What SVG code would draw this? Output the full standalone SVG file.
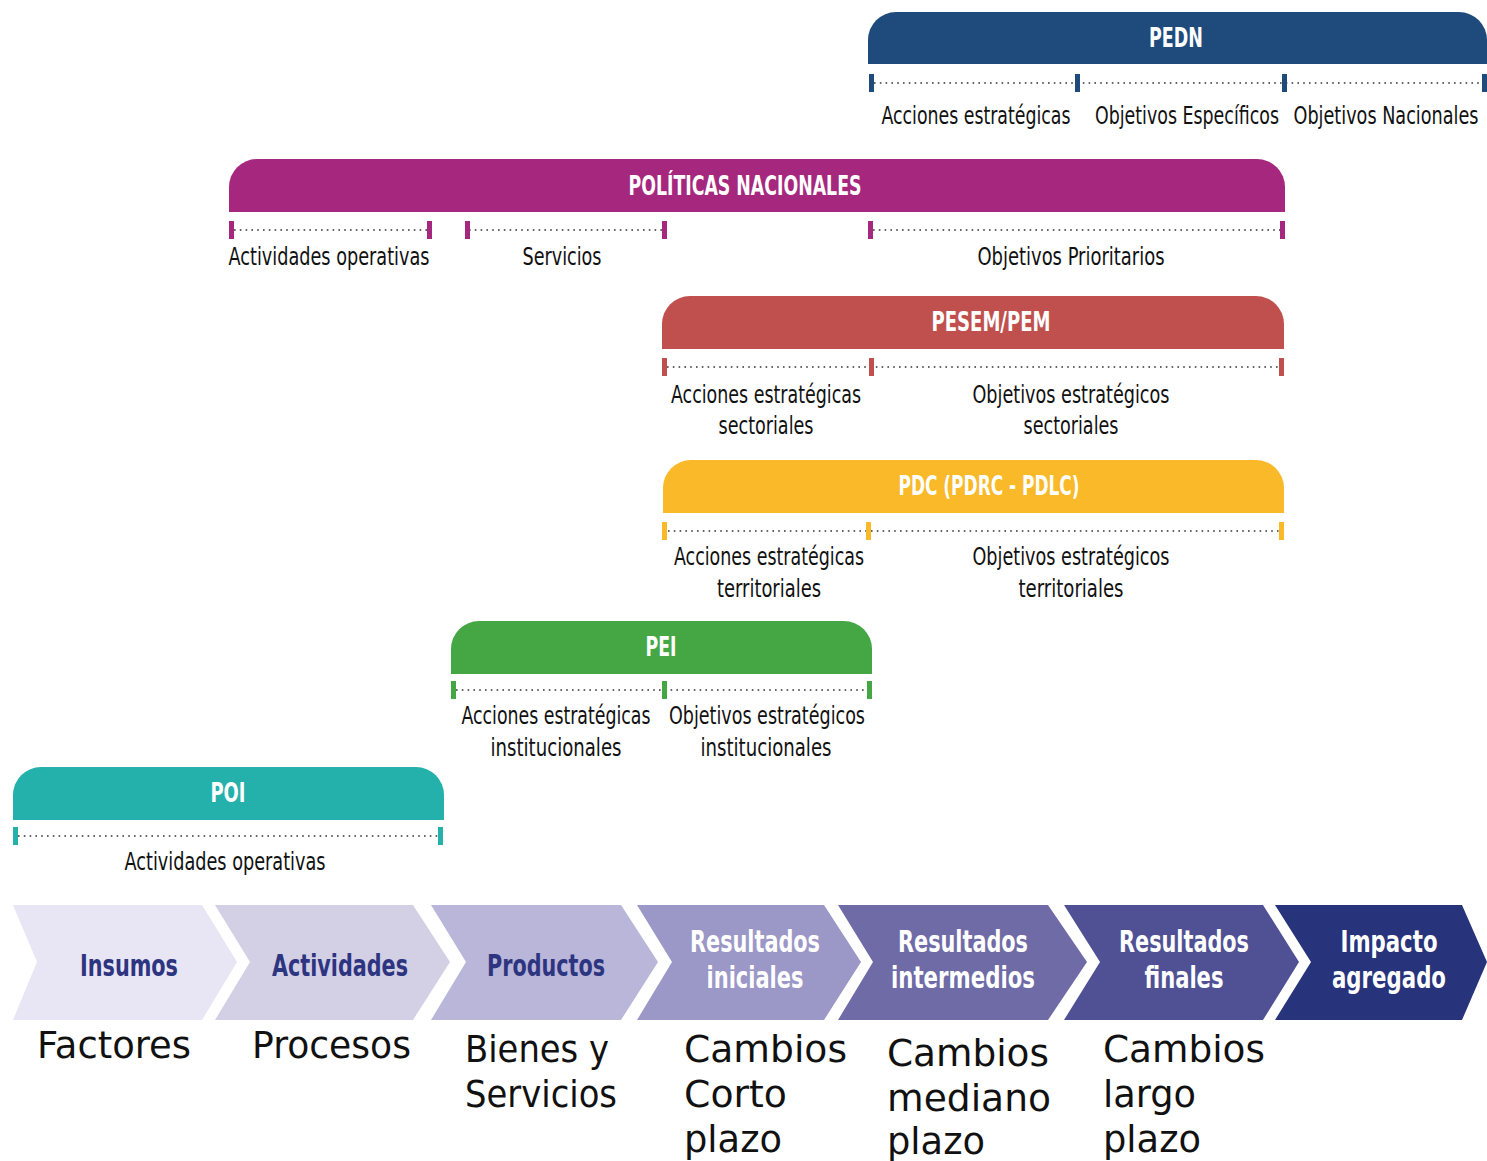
<svg xmlns="http://www.w3.org/2000/svg" width="1487" height="1161" viewBox="0 0 1487 1161">
<style>
.ttl{font-family:"DejaVu Sans Condensed","DejaVu Sans","Liberation Sans",sans-serif;font-weight:bold;font-size:27px;fill:#fff;text-anchor:middle;dominant-baseline:central}
.lbl{font-family:"DejaVu Sans Condensed","DejaVu Sans","Liberation Sans",sans-serif;font-size:25px;fill:#111;text-anchor:middle}
.dot{stroke:#333;stroke-width:1.6;stroke-dasharray:1.6 4.2;fill:none}
.chv{font-family:"DejaVu Sans Condensed","DejaVu Sans","Liberation Sans",sans-serif;font-weight:bold;font-size:31px;text-anchor:middle;dominant-baseline:central}
.dk{fill:#2E3580}
.wt{fill:#fff}
.big{font-family:"DejaVu Sans","Liberation Sans",sans-serif;font-size:38px;fill:#111}
</style>
<g id="pedn">
<path d="M868,64 V40 A28,28 0 0 1 896,12 H1459 A28,28 0 0 1 1487,40 V64 Z" fill="#1F4A7C"/>
<text class="ttl" x="1176" y="37" textLength="54" lengthAdjust="spacingAndGlyphs">PEDN</text>
<line class="dot" x1="874" y1="83" x2="1484" y2="83"/>
<g fill="#1F4A7C"><rect x="869" y="74" width="5" height="18"/><rect x="1075" y="74" width="5" height="18"/><rect x="1282" y="74" width="5" height="18"/><rect x="1482" y="74" width="5" height="18"/></g>
<text class="lbl" x="976" y="124" textLength="189" lengthAdjust="spacingAndGlyphs">Acciones estratégicas</text>
<text class="lbl" x="1187" y="124" textLength="184" lengthAdjust="spacingAndGlyphs">Objetivos Específicos</text>
<text class="lbl" x="1386" y="124" textLength="185" lengthAdjust="spacingAndGlyphs">Objetivos Nacionales</text>
</g>
<g id="politicas">
<path d="M229,212 V187 A28,28 0 0 1 257,159 H1257 A28,28 0 0 1 1285,187 V212 Z" fill="#A5287E"/>
<text class="ttl" x="745" y="185" textLength="233" lengthAdjust="spacingAndGlyphs">POLÍTICAS NACIONALES</text>
<line class="dot" x1="234" y1="230" x2="430" y2="230"/>
<line class="dot" x1="469" y1="230" x2="665" y2="230"/>
<line class="dot" x1="873" y1="230" x2="1283" y2="230"/>
<g fill="#A5287E"><rect x="229" y="221" width="5" height="18"/><rect x="427" y="221" width="5" height="18"/><rect x="465" y="221" width="5" height="18"/><rect x="662" y="221" width="5" height="18"/><rect x="868" y="221" width="5" height="18"/><rect x="1280" y="221" width="5" height="18"/></g>
<text class="lbl" x="329" y="265" textLength="201" lengthAdjust="spacingAndGlyphs">Actividades operativas</text>
<text class="lbl" x="562" y="265" textLength="79" lengthAdjust="spacingAndGlyphs">Servicios</text>
<text class="lbl" x="1071" y="265" textLength="187" lengthAdjust="spacingAndGlyphs">Objetivos Prioritarios</text>
</g>
<g id="pesem">
<path d="M662,349 V324 A28,28 0 0 1 690,296 H1256 A28,28 0 0 1 1284,324 V349 Z" fill="#C0504D"/>
<text class="ttl" x="991" y="321" textLength="119" lengthAdjust="spacingAndGlyphs">PESEM/PEM</text>
<line class="dot" x1="667" y1="367" x2="1280" y2="367"/>
<g fill="#C0504D"><rect x="662" y="358" width="5" height="18"/><rect x="869" y="358" width="5" height="18"/><rect x="1279" y="358" width="5" height="18"/></g>
<text class="lbl" x="766" y="403" textLength="190" lengthAdjust="spacingAndGlyphs">Acciones estratégicas</text>
<text class="lbl" x="766" y="434" textLength="95" lengthAdjust="spacingAndGlyphs">sectoriales</text>
<text class="lbl" x="1071" y="403" textLength="197" lengthAdjust="spacingAndGlyphs">Objetivos estratégicos</text>
<text class="lbl" x="1071" y="434" textLength="95" lengthAdjust="spacingAndGlyphs">sectoriales</text>
</g>
<g id="pdc">
<path d="M663,513 V488 A28,28 0 0 1 691,460 H1256 A28,28 0 0 1 1284,488 V513 Z" fill="#F9B928"/>
<text class="ttl" x="989" y="485" textLength="181" lengthAdjust="spacingAndGlyphs">PDC (PDRC - PDLC)</text>
<line class="dot" x1="668" y1="531" x2="1280" y2="531"/>
<g fill="#F9B928"><rect x="662" y="522" width="5" height="18"/><rect x="866" y="522" width="5" height="18"/><rect x="1279" y="522" width="5" height="18"/></g>
<text class="lbl" x="769" y="565" textLength="190" lengthAdjust="spacingAndGlyphs">Acciones estratégicas</text>
<text class="lbl" x="769" y="597" textLength="104" lengthAdjust="spacingAndGlyphs">territoriales</text>
<text class="lbl" x="1071" y="565" textLength="197" lengthAdjust="spacingAndGlyphs">Objetivos estratégicos</text>
<text class="lbl" x="1071" y="597" textLength="105" lengthAdjust="spacingAndGlyphs">territoriales</text>
</g>
<g id="pei">
<path d="M451,674 V649 A28,28 0 0 1 479,621 H844 A28,28 0 0 1 872,649 V674 Z" fill="#44A744"/>
<text class="ttl" x="661" y="646" textLength="31" lengthAdjust="spacingAndGlyphs">PEI</text>
<line class="dot" x1="456" y1="690" x2="868" y2="690"/>
<g fill="#44A744"><rect x="451" y="681" width="5" height="18"/><rect x="662" y="681" width="5" height="18"/><rect x="867" y="681" width="5" height="18"/></g>
<text class="lbl" x="556" y="724" textLength="189" lengthAdjust="spacingAndGlyphs">Acciones estratégicas</text>
<text class="lbl" x="556" y="756" textLength="131" lengthAdjust="spacingAndGlyphs">institucionales</text>
<text class="lbl" x="767" y="724" textLength="196" lengthAdjust="spacingAndGlyphs">Objetivos estratégicos</text>
<text class="lbl" x="766" y="756" textLength="131" lengthAdjust="spacingAndGlyphs">institucionales</text>
</g>
<g id="poi">
<path d="M13,820 V795 A28,28 0 0 1 41,767 H416 A28,28 0 0 1 444,795 V820 Z" fill="#24B1AC"/>
<text class="ttl" x="228" y="792" textLength="35" lengthAdjust="spacingAndGlyphs">POI</text>
<line class="dot" x1="18" y1="836" x2="440" y2="836"/>
<g fill="#24B1AC"><rect x="13" y="827" width="5" height="18"/><rect x="438" y="827" width="5" height="18"/></g>
<text class="lbl" x="225" y="870" textLength="201" lengthAdjust="spacingAndGlyphs">Actividades operativas</text>
</g>
<g id="chain">
<g id="insumos"><path d="M13,905 H202 L237,962 L202,1020 H13 L37,962 Z" fill="#E8E6F4"/><text class="chv dk" x="129" y="965" textLength="98" lengthAdjust="spacingAndGlyphs">Insumos</text></g>
<g id="actividades"><path d="M215,905 H413 L450,962 L413,1020 H215 L250,962 Z" fill="#D3D0E6"/><text class="chv dk" x="340" y="965" textLength="136" lengthAdjust="spacingAndGlyphs">Actividades</text></g>
<g id="productos"><path d="M431,905 H621 L658,962 L621,1020 H431 L466,962 Z" fill="#BAB6D9"/><text class="chv dk" x="546" y="965" textLength="118" lengthAdjust="spacingAndGlyphs">Productos</text></g>
<g id="iniciales"><path d="M637,905 H824 L861,962 L824,1020 H637 L672,962 Z" fill="#9B97C6"/><text class="chv wt" x="755" y="941" textLength="130" lengthAdjust="spacingAndGlyphs">Resultados</text><text class="chv wt" x="755" y="977" textLength="97" lengthAdjust="spacingAndGlyphs">iniciales</text></g>
<g id="intermedios"><path d="M838,905 H1048 L1087,962 L1048,1020 H838 L873,962 Z" fill="#6F6BA7"/><text class="chv wt" x="963" y="941" textLength="130" lengthAdjust="spacingAndGlyphs">Resultados</text><text class="chv wt" x="963" y="977" textLength="144" lengthAdjust="spacingAndGlyphs">intermedios</text></g>
<g id="finales"><path d="M1064,905 H1263 L1299,962 L1263,1020 H1064 L1100,962 Z" fill="#4F5194"/><text class="chv wt" x="1184" y="941" textLength="130" lengthAdjust="spacingAndGlyphs">Resultados</text><text class="chv wt" x="1184" y="977" textLength="79" lengthAdjust="spacingAndGlyphs">finales</text></g>
<g id="impacto"><path d="M1275,905 H1462 L1487,962 L1462,1020 H1275 L1311,962 Z" fill="#27337B"/><text class="chv wt" x="1389" y="941" textLength="97" lengthAdjust="spacingAndGlyphs">Impacto</text><text class="chv wt" x="1389" y="977" textLength="114" lengthAdjust="spacingAndGlyphs">agregado</text></g>
</g>
<g id="descr">
<text class="big" x="37" y="1058" textLength="154" lengthAdjust="spacingAndGlyphs">Factores</text>
<text class="big" x="252" y="1058" textLength="159" lengthAdjust="spacingAndGlyphs">Procesos</text>
<text class="big" x="465" y="1062" textLength="144" lengthAdjust="spacingAndGlyphs">Bienes y</text>
<text class="big" x="465" y="1107" textLength="152" lengthAdjust="spacingAndGlyphs">Servicios</text>
<text class="big" x="684" y="1062" textLength="163" lengthAdjust="spacingAndGlyphs">Cambios</text>
<text class="big" x="684" y="1107" textLength="103" lengthAdjust="spacingAndGlyphs">Corto</text>
<text class="big" x="684" y="1152" textLength="98" lengthAdjust="spacingAndGlyphs">plazo</text>
<text class="big" x="887" y="1066" textLength="162" lengthAdjust="spacingAndGlyphs">Cambios</text>
<text class="big" x="887" y="1111" textLength="164" lengthAdjust="spacingAndGlyphs">mediano</text>
<text class="big" x="887" y="1154" textLength="98" lengthAdjust="spacingAndGlyphs">plazo</text>
<text class="big" x="1103" y="1062" textLength="162" lengthAdjust="spacingAndGlyphs">Cambios</text>
<text class="big" x="1103" y="1107" textLength="93" lengthAdjust="spacingAndGlyphs">largo</text>
<text class="big" x="1103" y="1152" textLength="98" lengthAdjust="spacingAndGlyphs">plazo</text>
</g>
<g id="connectors"/>
</svg>
